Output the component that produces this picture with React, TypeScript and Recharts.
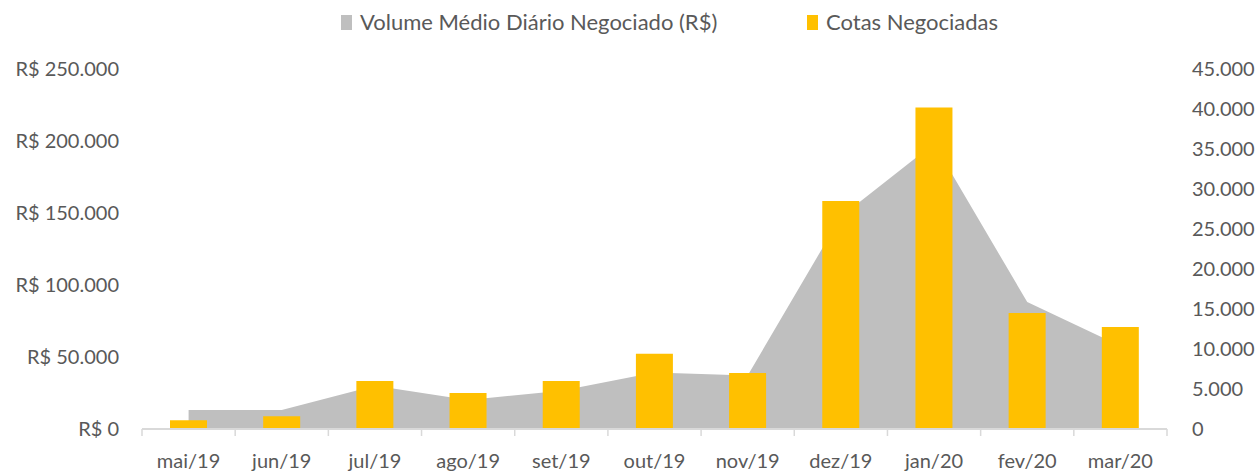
import React from 'react';
import { ComposedChart, Area, Bar, XAxis, YAxis } from 'recharts';

const MONTHS = ['mai/19', 'jun/19', 'jul/19', 'ago/19', 'set/19', 'out/19', 'nov/19', 'dez/19', 'jan/20', 'fev/20', 'mar/20'];
// volume médio diário negociado (R$), eixo esquerdo
const VOLUME = [13200, 13200, 30100, 20100, 26600, 39200, 37200, 147400, 198200, 88200, 57600];
// cotas negociadas, eixo direito
const COTAS = [1100, 1600, 6000, 4500, 6000, 9400, 7000, 28500, 40200, 14500, 12750];
const LEFT_TICKS = [0, 50000, 100000, 150000, 200000, 250000];
const RIGHT_TICKS = [0, 5000, 10000, 15000, 20000, 25000, 30000, 35000, 40000, 45000];

const GRAY = '#BFBFBF';
const GOLD = '#FFC000';
const TEXT = '#595959';
const FONT = 'Lato, "Open Sans", sans-serif';

const data = MONTHS.map((m, i) => ({ month: m, volume: VOLUME[i], cotas: COTAS[i] }));

const fmt = (v: number) => String(v).replace(/\B(?=(\d{3})+(?!\d))/g, '.');

// label at band centre, tick marks on the band edges (like Excel)
const MonthTick = ({ x, y, payload, index }: any) => {
  const half = payload.offset || 0;
  return (
    <g>
      <line x1={x - half} x2={x - half} y1={y} y2={y + 7} stroke="#D9D9D9" strokeWidth={1.5} />
      {index === MONTHS.length - 1 && (
        <line x1={x + half} x2={x + half} y1={y} y2={y + 7} stroke="#D9D9D9" strokeWidth={1.5} />
      )}
      <text x={x} y={y + 39} textAnchor="middle" fill={TEXT} fontSize={20} fontFamily={FONT}>
        {payload.value}
      </text>
    </g>
  );
};

const LegendItem = ({ color, label, left }: { color: string; label: string; left: number }) => (
  <div style={{ position: 'absolute', left, top: 9, display: 'flex', alignItems: 'center' }}>
    <span style={{ width: 11, height: 15, background: color, marginRight: 8 }} />
    <span>{label}</span>
  </div>
);

export default function App() {
  return (
    <div style={{ position: 'absolute', left: 0, top: 0, width: 1259, height: 473, background: '#fff', fontFamily: FONT }}>
      <div style={{ position: 'absolute', inset: 0, fontSize: 22, lineHeight: '26px', color: TEXT, whiteSpace: 'nowrap' }}>
        <LegendItem color={GRAY} left={341} label="Volume Médio Diário Negociado (R$)" />
        <LegendItem color={GOLD} left={807} label="Cotas Negociadas" />
      </div>
      <ComposedChart width={1259} height={473} data={data} margin={{ top: 69, right: 0, bottom: 0, left: 0 }}>
        <XAxis
          dataKey="month"
          height={44}
          tickLine={false}
          tickSize={0}
          tickMargin={0}
          axisLine={{ stroke: '#D9D9D9', strokeWidth: 2 }}
          tick={<MonthTick />}
          interval={0}
        />
        <YAxis
          yAxisId="left"
          width={142}
          domain={[0, 250000]}
          ticks={LEFT_TICKS}
          tickFormatter={(v: number) => `R$ ${fmt(v)}`}
          axisLine={false}
          tickLine={false}
          tickSize={0}
          tickMargin={23}
          tick={{ fill: TEXT, fontSize: 20, fontFamily: FONT }}
        />
        <YAxis
          yAxisId="right"
          orientation="right"
          width={92}
          domain={[0, 45000]}
          ticks={RIGHT_TICKS}
          tickFormatter={fmt}
          axisLine={false}
          tickLine={false}
          tickSize={0}
          tickMargin={25}
          tick={{ fill: TEXT, fontSize: 20, fontFamily: FONT, textAnchor: 'start' }}
        />
        <Area
          yAxisId="left"
          type="linear"
          dataKey="volume"
          fill={GRAY}
          fillOpacity={1}
          stroke="none"
          isAnimationActive={false}
        />
        <Bar yAxisId="right" dataKey="cotas" fill={GOLD} barSize={37} isAnimationActive={false} />
      </ComposedChart>
    </div>
  );
}
